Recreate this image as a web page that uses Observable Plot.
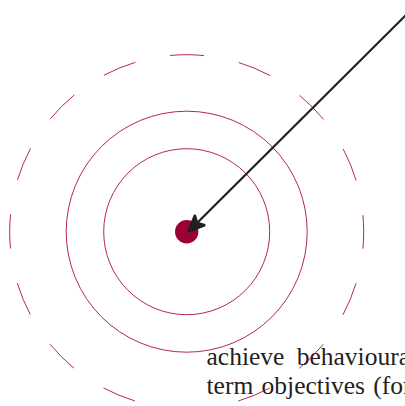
<!DOCTYPE html>
<html>
<head>
<meta charset="utf-8">
<script src="https://cdn.jsdelivr.net/npm/d3@7"></script>
<script src="https://cdn.jsdelivr.net/npm/@observablehq/plot@0.6"></script>
<style>
  html, body { margin: 0; padding: 0; background: #fff; overflow: hidden; }
  svg { overflow: hidden; }
</style>
</head>
<body>
<div id="chart"></div>
<script>
// Target centre (pixel coordinates of the drawing)
const centre = [{x: 186.2, y: 231.2, r: 11.7}];
// Rings around the target
const solidRings = [{x: 186.2, y: 231.2, r: 83}, {x: 186.2, y: 231.2, r: 120.5}];
const dashedRings = [{x: 186.2, y: 231.2, r: 177}];
// Arrow hitting the centre
const arrows = [{x1: 420, y1: 0, x2: 187.8, y2: 231.2}];
// Text fragment (clipped paragraph)
const textLines = [
  {x: 206, y: 364.5, text: "achieve behavioural"},
  {x: 206, y: 393.5, text: "term objectives (for"}
];

const crimson = "#9b0034";
const ringColor = "#a3003c";
const ink = "#231f20";
const dashedR = dashedRings[0].r;
const period = 2 * Math.PI * dashedR / 16;
const dashLen = 34;

function filledHead(color, context) {
  const m = d3.create("svg:marker")
    .attr("viewBox", "-18 -9 19 18")
    .attr("markerUnits", "userSpaceOnUse")
    .attr("markerWidth", 19)
    .attr("markerHeight", 18)
    .attr("refX", 0)
    .attr("refY", 0)
    .attr("orient", "auto")
    .attr("fill", ink);
  m.append("path").attr("d", "M0.5,0L-16.5,-7.2L-12.5,0L-16.5,7.2Z");
  return m.node();
}

const chart = Plot.plot({
  width: 405,
  height: 406,
  margin: 0,
  x: {domain: [0, 405], range: [0, 405], axis: null},
  y: {domain: [0, 406], range: [0, 406], axis: null},
  r: {type: "linear", domain: [0, 200], range: [0, 200]},
  marks: [
    Plot.text(textLines, {
      x: "x", y: "y", text: "text",
      textAnchor: "start", lineAnchor: "bottom",
      fontFamily: "'Liberation Serif', serif", fontSize: 25.5,
      fill: ink
    }),
    Plot.dot(solidRings, {x: "x", y: "y", r: "r", fill: "none", stroke: ringColor, strokeWidth: 0.85}),
    Plot.dot(dashedRings, {
      x: "x", y: "y", r: "r", fill: "none", stroke: ringColor, strokeWidth: 0.85,
      strokeDasharray: `${dashLen} ${period - dashLen}`,
      strokeDashoffset: dashLen / 2
    }),
    Plot.dot(centre, {x: "x", y: "y", r: "r", fill: crimson, stroke: "none"}),
    Plot.link(arrows, {
      x1: "x1", y1: "y1", x2: "x2", y2: "y2",
      stroke: ink, strokeWidth: 2.2,
      markerEnd: filledHead
    })
  ]
});

const svg = d3.select(chart);
const spacing = [6, 2];
svg.selectAll("text").each(function(d, i) {
  d3.select(this).style("word-spacing", (spacing[i] ?? 0) + "px");
});
document.getElementById("chart").appendChild(chart);
</script>
</body>
</html>
